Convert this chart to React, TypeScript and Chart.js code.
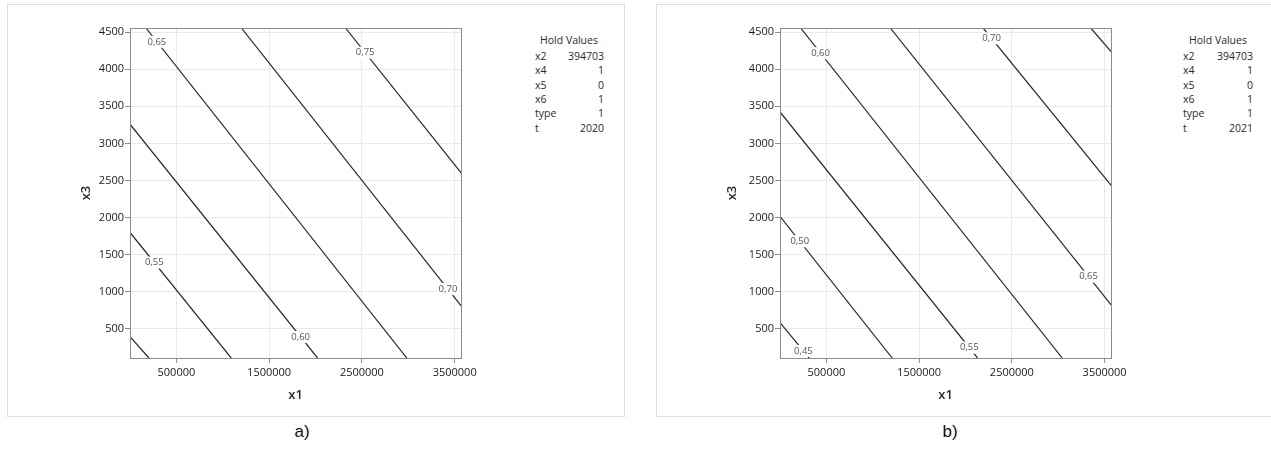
import React, { useEffect, useRef } from 'react';
import { Chart, registerables } from 'chart.js';

Chart.register(...registerables);

// ---- axes ----
const X_TICKS = [500000, 1500000, 2500000, 3500000];
const Y_TICKS = [500, 1000, 1500, 2000, 2500, 3000, 3500, 4000, 4500];
const X_MIN = 0;
const X_MAX = 3570000;
const Y_MIN = 109;
const Y_MAX = 4554;

// ---- panel a) contour lines (t = 2020) ----
const LEVELS_A = ['0,50', '0,55', '0,60', '0,65', '0,70', '0,75'];
const START_X_A = [0, 0, 0, 172000, 1201000, 2323000];
const START_Y_A = [397, 1800, 3258, 4554, 4554, 4554];
const END_X_A = [204000, 1091000, 2022000, 2984000, 3570000, 3570000];
const END_Y_A = [109, 109, 109, 109, 812, 2601];
const LABEL_AT_A = [null, 0.24, 0.91, 0.042, 0.94, 0.17];

// ---- panel b) contour lines (t = 2021) ----
const LEVELS_B = ['0,45', '0,50', '0,55', '0,60', '0,65', '0,70', '0,75'];
const START_X_B = [0, 0, 0, 222000, 1189000, 2190000, 3350000];
const START_Y_B = [585, 2017, 3423, 4554, 4554, 4554, 4554];
const END_X_B = [315000, 1210000, 2130000, 3043000, 3570000, 3570000, 3570000];
const END_Y_B = [109, 109, 109, 109, 825, 2435, 4235];
const LABEL_AT_B = [0.8, 0.176, 0.958, 0.0765, 0.898, 0.066, null];

// ---- hold values ----
const HOLD_NAMES = ['x2', 'x4', 'x5', 'x6', 'type', 't'];
const HOLD_VALUES_A = ['394703', '1', '0', '1', '1', '2020'];
const HOLD_VALUES_B = ['394703', '1', '0', '1', '1', '2021'];

const FONT = '"Open Sans", "Noto Sans", sans-serif';

const contourLabelPlugin = {
  id: 'contourLabels',
  afterDatasetsDraw(chart: any) {
    const { ctx, chartArea, scales } = chart;
    const xs = scales.x;
    const ys = scales.y;
    ctx.save();
    // plot frame
    ctx.strokeStyle = '#8c8c8c';
    ctx.lineWidth = 1;
    ctx.strokeRect(
      Math.round(chartArea.left) + 0.5,
      Math.round(chartArea.top) + 0.5,
      Math.round(chartArea.right - chartArea.left),
      Math.round(chartArea.bottom - chartArea.top)
    );
    ctx.font = '9.5px ' + FONT;
    ctx.textAlign = 'center';
    ctx.textBaseline = 'middle';
    chart.data.datasets.forEach((ds: any) => {
      const t = ds.labelAt;
      if (t == null) return;
      const p0 = ds.data[0];
      const p1 = ds.data[1];
      const px = xs.getPixelForValue(p0.x + (p1.x - p0.x) * t);
      const py = ys.getPixelForValue(p0.y + (p1.y - p0.y) * t);
      const w = ctx.measureText(ds.label).width + 3;
      ctx.fillStyle = '#ffffff';
      ctx.fillRect(px - w / 2, py - 6, w, 12);
      ctx.fillStyle = '#555555';
      ctx.fillText(ds.label, px, py);
    });
    ctx.restore();
  },
};

type PanelProps = {
  levels: string[];
  sx: number[];
  sy: number[];
  ex: number[];
  ey: number[];
  labelAt: (number | null)[];
  padRight: number;
  yTitlePad: number;
};

function ContourChart(p: PanelProps) {
  const ref = useRef<HTMLCanvasElement | null>(null);
  useEffect(() => {
    if (!ref.current) return;
    const datasets = p.levels.map((lv, i) => ({
      label: lv,
      labelAt: p.labelAt[i],
      data: [
        { x: p.sx[i], y: p.sy[i] },
        { x: p.ex[i], y: p.ey[i] },
      ],
      showLine: true,
      borderColor: '#262626',
      borderWidth: 1.2,
      pointRadius: 0,
      pointHoverRadius: 0,
      fill: false,
    }));
    const chart = new Chart(ref.current, {
      type: 'scatter',
      data: { datasets } as any,
      options: {
        animation: false,
        responsive: false,
        events: [],
        layout: { padding: { top: 28, right: p.padRight, left: 0, bottom: 8 } },
        plugins: { legend: { display: false }, tooltip: { enabled: false } },
        scales: {
          x: {
            type: 'linear',
            min: X_MIN,
            max: X_MAX,
            afterBuildTicks: (s: any) => {
              s.ticks = X_TICKS.map((v) => ({ value: v }));
            },
            afterFit: (s: any) => {
              s.height = 50;
            },
            grid: { color: '#e9e9e9', tickColor: '#8c8c8c', tickLength: 5, lineWidth: 1 },
            border: { display: false },
            ticks: {
              color: '#1a1a1a',
              font: { family: FONT, size: 11 },
              padding: 3,
              maxRotation: 0,
              autoSkip: false,
              callback: (v: any) => String(v),
            },
            title: {
              display: true,
              text: 'x1',
              color: '#2a2a2a',
              font: { family: FONT, size: 13, weight: '600' },
              padding: { top: 0, bottom: 5 },
            },
          },
          y: {
            type: 'linear',
            min: Y_MIN,
            max: Y_MAX,
            afterBuildTicks: (s: any) => {
              s.ticks = Y_TICKS.map((v) => ({ value: v }));
            },
            afterFit: (s: any) => {
              s.width = 130;
            },
            grid: { color: '#e9e9e9', tickColor: '#8c8c8c', tickLength: 5, lineWidth: 1 },
            border: { display: false },
            ticks: {
              color: '#1a1a1a',
              font: { family: FONT, size: 11 },
              padding: 1,
              autoSkip: false,
              callback: (v: any) => String(v),
            },
            title: {
              display: true,
              text: 'x3',
              color: '#2a2a2a',
              font: { family: FONT, size: 13, weight: '600' },
              padding: { top: p.yTitlePad, bottom: 0 },
            },
          },
        },
      } as any,
      plugins: [contourLabelPlugin],
    });
    return () => chart.destroy();
  }, []);
  return <canvas ref={ref} width={480} height={416} style={{ display: 'block', width: 480, height: 416 }} />;
}

function HoldValues({ values, cx, left, right }: { values: string[]; cx: number; left: number; right: number }) {
  const base: React.CSSProperties = {
    position: 'absolute',
    fontFamily: FONT,
    fontSize: 10.5,
    lineHeight: '14px',
    color: '#2a2a2a',
    whiteSpace: 'nowrap',
  };
  return (
    <>
      <div style={{ ...base, left: cx - 60, width: 120, top: 33, textAlign: 'center' }}>Hold Values</div>
      {HOLD_NAMES.map((n, i) => (
        <React.Fragment key={n}>
          <div style={{ ...base, left, top: 48.7 + i * 14.4 }}>{n}</div>
          <div style={{ ...base, left: right - 80, width: 80, top: 48.7 + i * 14.4, textAlign: 'right' }}>
            {values[i]}
          </div>
        </React.Fragment>
      ))}
    </>
  );
}

export default function App() {
  const box: React.CSSProperties = {
    position: 'absolute',
    border: '1.5px solid #dedede',
    boxSizing: 'border-box',
  };
  const caption: React.CSSProperties = {
    position: 'absolute',
    width: 60,
    top: 420,
    textAlign: 'center',
    fontFamily: '"Liberation Sans", Arial, sans-serif',
    fontSize: 17,
    lineHeight: '24px',
    color: '#111',
  };
  return (
    <div
      style={{
        position: 'absolute',
        left: 0,
        top: 0,
        width: 1271,
        height: 455,
        overflow: 'hidden',
        background: '#fff',
      }}
    >
      <div style={{ ...box, left: 7, top: 4, width: 618, height: 413 }} />
      <div style={{ ...box, left: 656, top: 4, width: 640, height: 413 }} />
      <div style={{ position: 'absolute', left: 0, top: 0 }}>
        <ContourChart
          levels={LEVELS_A}
          sx={START_X_A}
          sy={START_Y_A}
          ex={END_X_A}
          ey={END_Y_A}
          labelAt={LABEL_AT_A}
          padRight={17}
          yTitlePad={78}
        />
      </div>
      <div style={{ position: 'absolute', left: 650, top: 0 }}>
        <ContourChart
          levels={LEVELS_B}
          sx={START_X_B}
          sy={START_Y_B}
          ex={END_X_B}
          ey={END_Y_B}
          labelAt={LABEL_AT_B}
          padRight={18}
          yTitlePad={74}
        />
      </div>
      <HoldValues values={HOLD_VALUES_A} cx={569} left={535} right={604} />
      <HoldValues values={HOLD_VALUES_B} cx={1218} left={1183} right={1253} />
      <div style={{ ...caption, left: 272 }}>a)</div>
      <div style={{ ...caption, left: 920 }}>b)</div>
    </div>
  );
}
